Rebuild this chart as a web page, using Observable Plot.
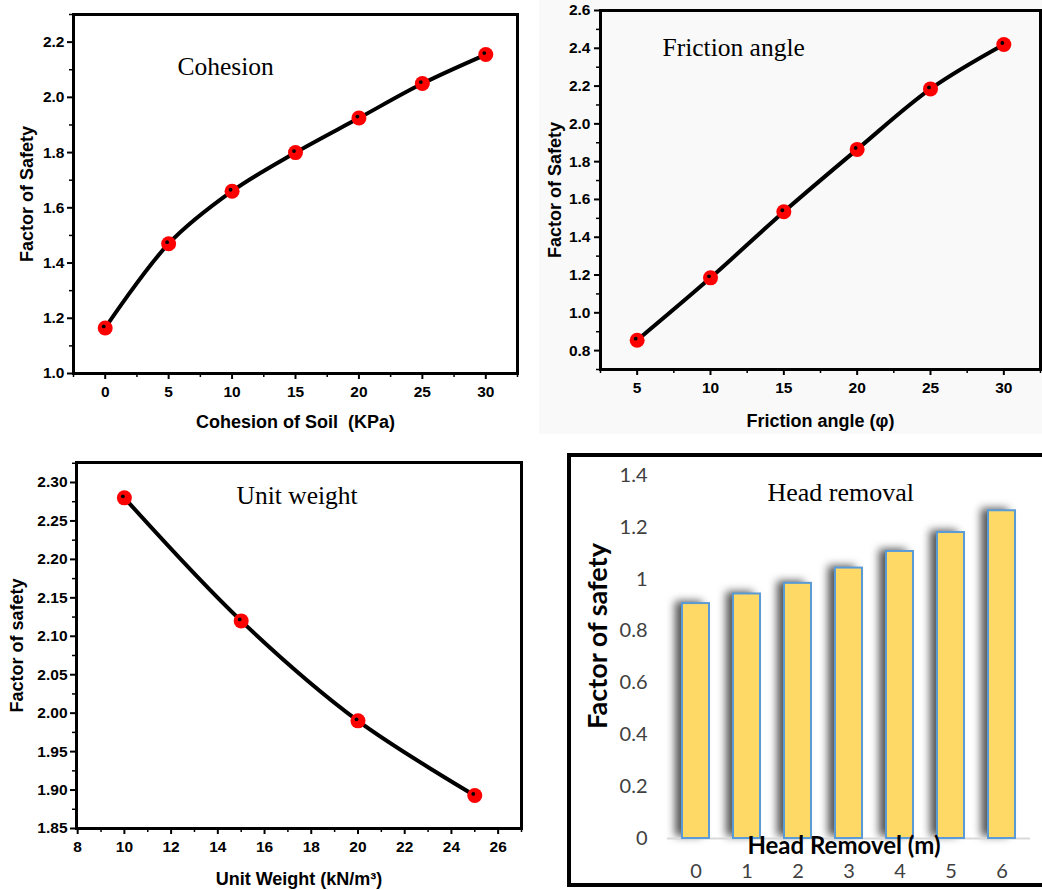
<!DOCTYPE html>
<html>
<head>
<meta charset="utf-8">
<script src="https://cdn.jsdelivr.net/npm/d3@7"></script>
<script src="https://cdn.jsdelivr.net/npm/@observablehq/plot@0.6"></script>
<style>
  html, body { margin: 0; padding: 0; background: #fff; overflow: hidden; }
  #page { position: relative; width: 1042px; height: 890px; }
  #page svg { position: absolute; }
  #hrBorder { position: absolute; left: 567px; top: 453px; width: 490px; height: 434px; border: 4px solid #000; box-sizing: border-box; }
</style>
</head>
<body>
<div id="page"><div id="hrBorder"></div></div>
<script>
// ---------- data ----------
const cohesionKPa = [0, 5, 10, 15, 20, 25, 30];
const cohesionFS = [1.165, 1.47, 1.66, 1.80, 1.925, 2.05, 2.155];

const frictionAngle = [5, 10, 15, 20, 25, 30];
const frictionFS = [0.855, 1.185, 1.535, 1.865, 2.185, 2.42];

const unitWeight = [10, 15, 20, 25];
const unitWeightFS = [2.28, 2.12, 1.99, 1.893];

const headRemoval = [0, 1, 2, 3, 4, 5, 6];
const headRemovalFS = [0.906, 0.943, 0.984, 1.043, 1.107, 1.18, 1.264];

// tick values
const cohesionXTicks = [0, 5, 10, 15, 20, 25, 30];
const cohesionXMinor = [-2.5, 2.5, 7.5, 12.5, 17.5, 22.5, 27.5, 32.5];
const cohesionYTicks = [1.0, 1.2, 1.4, 1.6, 1.8, 2.0, 2.2];
const cohesionYMinor = [1.1, 1.3, 1.5, 1.7, 1.9, 2.1, 2.3];

const frictionXTicks = [5, 10, 15, 20, 25, 30];
const frictionXMinor = [2.5, 7.5, 12.5, 17.5, 22.5, 27.5, 32.5];
const frictionYTicks = [0.8, 1.0, 1.2, 1.4, 1.6, 1.8, 2.0, 2.2, 2.4, 2.6];
const frictionYMinor = [0.7, 0.9, 1.1, 1.3, 1.5, 1.7, 1.9, 2.1, 2.3, 2.5];

const unitXTicks = [8, 10, 12, 14, 16, 18, 20, 22, 24, 26];
const unitXMinor = [9, 11, 13, 15, 17, 19, 21, 23, 25, 27];
const unitYTicks = [1.85, 1.90, 1.95, 2.00, 2.05, 2.10, 2.15, 2.20, 2.25, 2.30];
const unitYMinor = [1.875, 1.925, 1.975, 2.025, 2.075, 2.125, 2.175, 2.225, 2.275, 2.325];

const headYTicks = [0, 0.2, 0.4, 0.6, 0.8, 1, 1.2, 1.4];

// ---------- helpers ----------
const page = document.getElementById("page");
function place(svg, left, top) {
  svg.style.left = left + "px";
  svg.style.top = top + "px";
  page.appendChild(svg);
}

function linePanel(o) {
  const data = o.xs.map((x, i) => ({x, y: o.ys[i]}));
  const tickFont = {fontSize: 15.5, fontWeight: "bold", fill: "#000"};
  return Plot.plot({
    width: o.width, height: o.height,
    marginLeft: o.ml, marginRight: o.mr, marginTop: o.mt, marginBottom: o.mb,
    style: {background: o.bg || "#fff", fontFamily: "'Liberation Sans', Arial, sans-serif", color: "#000", overflow: "visible"},
    x: {domain: o.xDomain},
    y: {domain: o.yDomain},
    marks: [
      Plot.line(data, {x: "x", y: "y", stroke: "#000", strokeWidth: 4, curve: "catmull-rom"}),
      Plot.dot(data, {x: "x", y: "y", r: 7.5, fill: "#ff0000", stroke: "none"}),
      Plot.dot(data, {x: "x", y: "y", r: 1.9, fill: "#000", stroke: "none", dx: -1.5, dy: -1.5}),
      Plot.frame({stroke: "#000", strokeWidth: 3}),
      Plot.axisY(o.yMinor, {tickSize: 4, strokeWidth: 1.5, tickFormat: () => "", label: null}),
      Plot.axisY(o.yTicks, {tickSize: 6, strokeWidth: 2, tickPadding: o.yPad ?? 3, tickFormat: o.yFormat, label: null, ...tickFont}),
      Plot.axisX(o.xMinor, {tickSize: 4, strokeWidth: 1.5, tickFormat: () => "", label: null}),
      Plot.axisX(o.xTicks, {tickSize: 6, strokeWidth: 2, tickPadding: 6, tickFormat: d => String(d), label: null, ...tickFont}),
      Plot.text([o.yLabel], {text: d => d, frameAnchor: "left", rotate: -90, dx: o.yLabelDx, textAnchor: "middle", lineAnchor: "middle", fontSize: 18, fontWeight: "bold"}),
      Plot.text([o.xLabel], {text: d => d, frameAnchor: "bottom", dy: o.xLabelDy, textAnchor: "middle", lineAnchor: "middle", fontSize: 18, fontWeight: "bold"}),
      Plot.text([o.title], {text: d => d, frameAnchor: "top-left", dx: o.titleDx, dy: o.titleDy, textAnchor: "start", lineAnchor: "middle", fontSize: 25.5, fontFamily: "'Liberation Serif', 'Times New Roman', serif"})
    ]
  });
}

// ---------- panel 1: Cohesion ----------
place(linePanel({
  xs: cohesionKPa, ys: cohesionFS,
  width: 530, height: 440, ml: 73, mr: 13, mt: 14, mb: 67,
  xDomain: [-2.5, 32.5], yDomain: [1.0, 2.3],
  xTicks: cohesionXTicks, xMinor: cohesionXMinor,
  yTicks: cohesionYTicks, yMinor: cohesionYMinor, yFormat: d3.format(".1f"),
  yLabel: "Factor of Safety", yLabelDx: -46,
  xLabel: "Cohesion of Soil  (KPa)", xLabelDy: 49,
  title: "Cohesion", titleDx: 104, titleDy: 52
}), 0, 0);

// ---------- panel 2: Friction angle ----------
place(linePanel({
  xs: frictionAngle, ys: frictionFS,
  width: 503, height: 434, ml: 61, mr: 2, mt: 10, mb: 65, bg: "#f9f9f9",
  xDomain: [2.5, 32.5], yDomain: [0.7, 2.6],
  xTicks: frictionXTicks, xMinor: frictionXMinor,
  yTicks: frictionYTicks, yMinor: frictionYMinor, yFormat: d3.format(".1f"), yPad: 4,
  yLabel: "Factor of Safety", yLabelDx: -45,
  xLabel: "Friction angle (\u03C6)", xLabelDy: 52,
  title: "Friction angle", titleDx: 62, titleDy: 37
}), 539, 0);

// ---------- panel 3: Unit weight ----------
place(linePanel({
  xs: unitWeight, ys: unitWeightFS,
  width: 540, height: 450, ml: 76, mr: 19, mt: 22, mb: 62,
  xDomain: [7.95, 27], yDomain: [1.85, 2.326],
  xTicks: unitXTicks, xMinor: unitXMinor,
  yTicks: unitYTicks, yMinor: unitYMinor, yFormat: d3.format(".2f"),
  yLabel: "Factor of safety", yLabelDx: -59,
  xLabel: "Unit Weight (kN/m\u00B3)", xLabelDy: 51,
  title: "Unit weight", titleDx: 160, titleDy: 33
}), 0, 440);

// ---------- panel 4: Head removal ----------
const headData = headRemoval.map((h, i) => ({h, fs: headRemovalFS[i]}));
place(Plot.plot({
  width: 482, height: 450,
  marginLeft: 107, marginRight: 12, marginTop: 35, marginBottom: 52,
  style: {background: "transparent", fontFamily: "Lato, 'Open Sans', sans-serif", overflow: "visible"},
  x: {type: "band", domain: headRemoval, paddingInner: 0.48, paddingOuter: 0.24},
  y: {domain: [0, 1.4]},
  marks: [
    Plot.barY(headData, {x: "h", y: "fs", fill: "#555", dx: -7, dy: -2, imageFilter: "blur(4px)"}),
    Plot.ruleY([0], {stroke: "#d9d9d9", strokeWidth: 2}),
    Plot.barY(headData, {x: "h", y: "fs", fill: "#FFD966", stroke: "#5B9BD5", strokeWidth: 2}),
    Plot.axisY(headYTicks, {tickSize: 0, tickPadding: 20, tickFormat: d => String(+d.toFixed(1)), label: null, fontSize: 20, fill: "#404040"}),
    Plot.axisX(headRemoval, {tickSize: 0, tickPadding: 25, label: null, fontSize: 20, fill: "#404040"}),
    Plot.text(["Factor of safety"], {text: d => d, frameAnchor: "left", rotate: -90, dx: -69, dy: -21, textAnchor: "middle", lineAnchor: "middle", fontSize: 27, fontWeight: "bold", fill: "#000"}),
    Plot.text(["Head Removel (m)"], {text: d => d, frameAnchor: "bottom", dx: -5, dy: 8, textAnchor: "middle", lineAnchor: "middle", fontSize: 24, fontWeight: "bold", fill: "#000"}),
    Plot.text(["Head removal"], {text: d => d, frameAnchor: "top-left", dx: 100, dy: 17, textAnchor: "start", lineAnchor: "middle", fontSize: 26, fontFamily: "'Liberation Serif', 'Times New Roman', serif", fill: "#000"})
  ]
}), 560, 440);
</script>
</body>
</html>
